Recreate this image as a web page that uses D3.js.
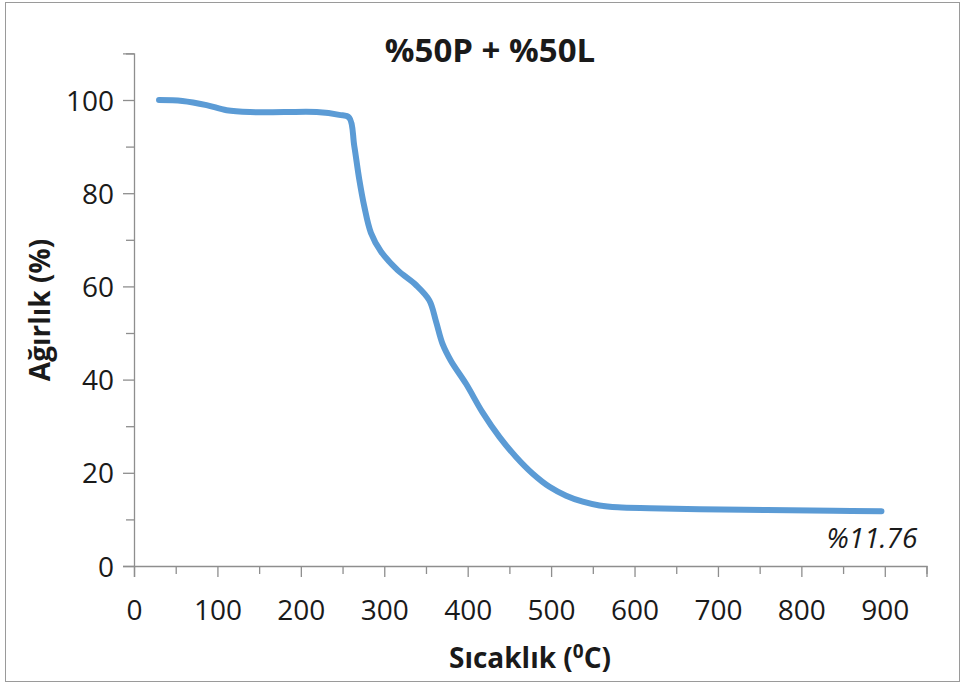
<!DOCTYPE html>
<html>
<head>
<meta charset="utf-8">
<script src="https://cdn.jsdelivr.net/npm/d3@7"></script>
<style>
  html, body { margin: 0; padding: 0; background: #fff; }
  svg { display: block; }
  text { font-family: "Open Sans", "DejaVu Sans", sans-serif; fill: #1a1a1a; }
</style>
</head>
<body>
<svg id="chart" width="962" height="686"></svg>
<script>
// TGA curve of the %50P + %50L blend
const temperature = [30, 58, 87, 111, 139, 180, 219, 246, 258, 264, 270, 276, 284, 296, 316, 338, 354, 362, 370, 380, 398, 418, 438, 458, 478, 498, 518, 538, 558, 580, 618, 678, 758, 838, 896];
const weight      = [100, 99.8, 98.9, 97.8, 97.4, 97.4, 97.4, 96.8, 96.2, 90.2, 83, 77.2, 71.5, 67.5, 63.5, 60.3, 57, 52.5, 47.6, 44.0, 39.1, 32.9, 27.7, 23.4, 19.8, 17.0, 15.1, 13.8, 13.0, 12.6, 12.4, 12.2, 12.0, 11.85, 11.76];

const xMajorTicks = [0, 100, 200, 300, 400, 500, 600, 700, 800, 900];
const xMinorTicks = [50, 150, 250, 350, 450, 550, 650, 750, 850, 950];
const yMajorTicks = [0, 20, 40, 60, 80, 100];
const yMinorTicks = [10, 30, 50, 70, 90, 110];

const titleText = "%50P + %50L";
const yTitle = "Ağırlık (%)";
const residueLabel = "%11.76";

const svg = d3.select("#chart");
const axisColor = "#8e8e8e";

// chart frame
svg.append("rect")
  .attr("x", 5.5).attr("y", 2.5)
  .attr("width", 954).attr("height", 679)
  .attr("fill", "#fff").attr("stroke", "#9a9a9a").attr("stroke-width", 1);

const x = d3.scaleLinear().domain([0, 950]).range([134, 926.5]);
const y = d3.scaleLinear().domain([0, 110]).range([566, 53.4]);

// minor ticks (unlabelled)
const xMinor = svg.append("g").attr("transform", `translate(0,${y(0)})`)
  .call(d3.axisBottom(x).tickValues(xMinorTicks).tickSize(8).tickFormat(""));
const yMinor = svg.append("g").attr("transform", `translate(${x(0)},0)`)
  .call(d3.axisLeft(y).tickValues(yMinorTicks).tickSize(8).tickFormat(""));

// major ticks with labels
const xAxis = svg.append("g").attr("transform", `translate(0,${y(0)})`)
  .call(d3.axisBottom(x).tickValues(xMajorTicks).tickSize(11).tickPadding(23).tickFormat(d3.format("d")));
const yAxis = svg.append("g").attr("transform", `translate(${x(0)},0)`)
  .call(d3.axisLeft(y).tickValues(yMajorTicks).tickSize(11).tickPadding(9).tickFormat(d3.format("d")));

[xMinor, yMinor, xAxis, yAxis].forEach(g => {
  g.selectAll(".domain").attr("stroke", axisColor).attr("stroke-width", 1.3);
  g.selectAll(".tick line").attr("stroke", axisColor).attr("stroke-width", 1.3);
  g.selectAll(".tick text")
    .style("font-family", "'Open Sans', sans-serif")
    .style("font-size", "28px")
    .attr("fill", "#1a1a1a");
});
xMinor.select(".domain").remove();
yMinor.select(".domain").remove();
yAxis.selectAll(".tick text").attr("dy", "0.36em");

// weight curve
const line = d3.line()
  .x((d, i) => x(temperature[i]))
  .y(d => y(d))
  .curve(d3.curveCatmullRom.alpha(0.5));

svg.append("path")
  .datum(weight)
  .attr("d", line)
  .attr("fill", "none")
  .attr("stroke", "#5b9bd5")
  .attr("stroke-width", 6)
  .attr("stroke-linecap", "round")
  .attr("stroke-linejoin", "round");

// residue label at the final point
const last = temperature.length - 1;
svg.append("text")
  .attr("x", x(temperature[last]) + 36)
  .attr("y", y(weight[last]) + 37)
  .attr("text-anchor", "end")
  .style("font-size", "28px")
  .style("font-style", "italic")
  .text(residueLabel);

// title
svg.append("text")
  .attr("x", 490).attr("y", 62)
  .attr("text-anchor", "middle")
  .style("font-size", "33px")
  .style("font-weight", "bold")
  .text(titleText);

// axis titles
const xt = svg.append("text")
  .attr("x", 530).attr("y", 668)
  .attr("text-anchor", "middle")
  .style("font-size", "28px")
  .style("font-weight", "bold");
xt.append("tspan").text("Sıcaklık (");
xt.append("tspan").attr("dy", -10).style("font-size", "19px").text("0");
xt.append("tspan").attr("dy", 10).text("C)");

svg.append("text")
  .attr("transform", "translate(50,310) rotate(-90)")
  .attr("text-anchor", "middle")
  .style("font-size", "28px")
  .style("font-weight", "bold")
  .text(yTitle);
</script>
</body>
</html>
